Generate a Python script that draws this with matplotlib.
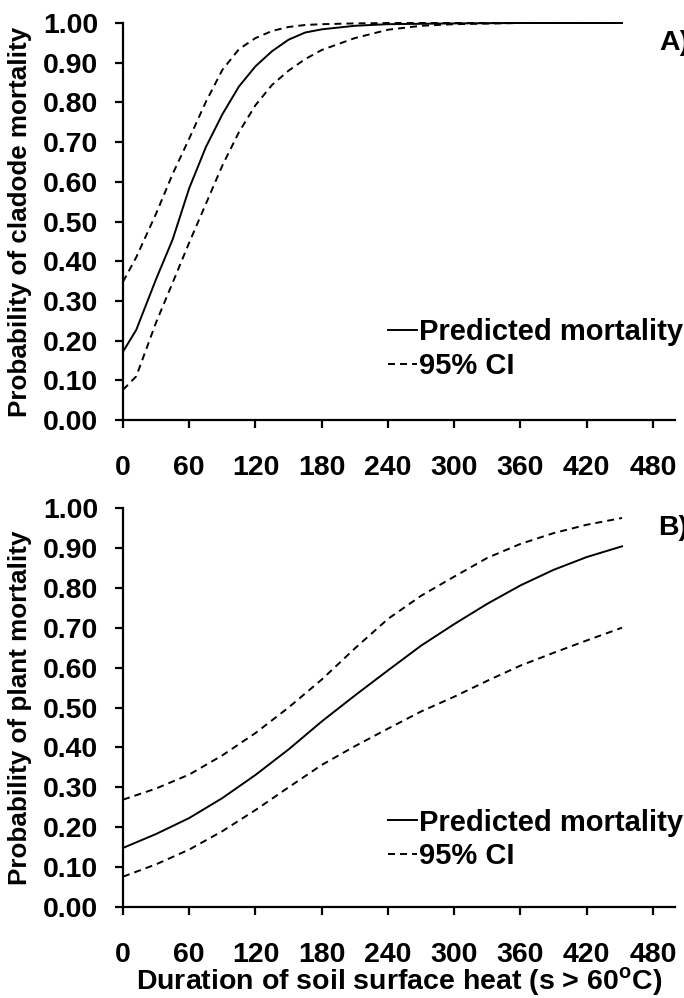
import matplotlib
matplotlib.use("Agg")
import matplotlib.pyplot as plt
from matplotlib.lines import Line2D

plt.rcParams['font.family'] = ['Liberation Sans', 'DejaVu Sans']
plt.rcParams['font.weight'] = 'bold'
plt.rcParams['mathtext.fontset'] = 'custom'
plt.rcParams['mathtext.rm'] = 'Liberation Sans:bold'
plt.rcParams['mathtext.bf'] = 'Liberation Sans:bold'

# ---- Panel A: cladode mortality ----
xa = [0, 12, 30, 45, 60, 75, 90, 105, 120, 135, 150, 165, 180, 210, 240, 270, 300, 360, 420, 452]
pred_a = [0.172, 0.227, 0.355, 0.455, 0.584, 0.687, 0.770, 0.840, 0.891, 0.929, 0.958, 0.976, 0.984,
          0.993, 0.997, 0.998, 0.999, 1.000, 1.000, 1.000]
upper_a = [0.348, 0.410, 0.520, 0.620, 0.709, 0.801, 0.882, 0.934, 0.962, 0.980, 0.990, 0.995, 0.997,
           0.999, 1.000, 1.000, 1.000, 1.000, 1.000, 1.000]
lower_a = [0.076, 0.110, 0.246, 0.346, 0.447, 0.544, 0.641, 0.725, 0.793, 0.844, 0.880, 0.909, 0.932,
           0.962, 0.983, 0.993, 0.997, 1.000, 1.000, 1.000]

# ---- Panel B: plant mortality ----
xb = [0, 30, 60, 90, 120, 150, 180, 210, 240, 270, 300, 330, 360, 390, 420, 452]
pred_b = [0.148, 0.183, 0.223, 0.273, 0.331, 0.395, 0.465, 0.530, 0.593, 0.655, 0.709, 0.760, 0.806,
          0.845, 0.877, 0.904]
upper_b = [0.269, 0.297, 0.332, 0.380, 0.436, 0.500, 0.570, 0.648, 0.722, 0.780, 0.828, 0.875, 0.910,
           0.937, 0.958, 0.975]
lower_b = [0.076, 0.107, 0.144, 0.190, 0.243, 0.300, 0.356, 0.403, 0.447, 0.490, 0.527, 0.567, 0.605,
           0.637, 0.668, 0.700]

xticks = [0, 60, 120, 180, 240, 300, 360, 420, 480]
yticks = [0.0, 0.1, 0.2, 0.3, 0.4, 0.5, 0.6, 0.7, 0.8, 0.9, 1.0]
legend_labels = ["Predicted mortality", "95% CI"]

W, H = 684, 998
fig = plt.figure(figsize=(W / 100, H / 100), dpi=100)

def px_axes(left, top, right, bottom):
    return fig.add_axes([left / W, 1 - bottom / H, (right - left) / W, (bottom - top) / H])

axA = px_axes(123, 23, 675, 420)
axB = px_axes(123, 508, 675, 907)

LW = 1.4
dash = (0, (3.6, 2.6))
for ax, x, p, u, l, ylab, leg_y in [
        (axA, xa, pred_a, upper_a, lower_a, "Probability of cladode mortality", 0.179),
        (axB, xb, pred_b, upper_b, lower_b, "Probability of plant mortality", 0.169)]:
    ax.plot(x, p, color='black', lw=LW, clip_on=False)
    ax.plot(x, u, color='black', lw=LW, ls=dash, clip_on=False)
    ax.plot(x, l, color='black', lw=LW, ls=dash, clip_on=False)
    ax.set_xlim(0, 500)
    ax.set_ylim(0, 1.0)
    ax.set_xticks(xticks)
    ax.set_yticks(yticks)
    ax.set_yticklabels([f"{v:.2f}" for v in yticks])
    for s in ['top', 'right']:
        ax.spines[s].set_visible(False)
    for s in ['left', 'bottom']:
        ax.spines[s].set_linewidth(1.6)
    ax.tick_params(axis='both', direction='out', length=6, width=1.6, labelsize=20.5)
    ax.tick_params(axis='y', pad=12)
    ax.tick_params(axis='x', pad=19)
    for t in ax.get_xticklabels() + ax.get_yticklabels():
        t.set_fontweight('bold')
    ax.set_ylabel(ylab, fontsize=18.7, fontweight='bold')
    ax.yaxis.set_label_coords(-0.165, 0.5)
    handles = [Line2D([], [], color='black', lw=LW),
               Line2D([], [], color='black', lw=LW, ls=dash)]
    ax.legend(handles, legend_labels, loc='center left', bbox_to_anchor=(0.48, leg_y),
              frameon=False, handlelength=1.0, handletextpad=0.05,
              labelspacing=0.2, borderpad=0, borderaxespad=0,
              prop={'weight': 'bold', 'size': 21})

axB.set_xlabel(r"Duration of soil surface heat (s > 60$^{\mathrm{o}}$C)", fontsize=20.5, fontweight='bold')
axB.xaxis.set_label_coords(0.5, -0.188)
axB.xaxis.label.set_va('center')

fig.text(659 / W, 1 - 43 / H, "A)", fontsize=20.5, fontweight='bold', va='center', ha='left')
fig.text(658 / W, 1 - 528 / H, "B)", fontsize=20.5, fontweight='bold', va='center', ha='left')

fig.savefig("out.png", dpi=100)
